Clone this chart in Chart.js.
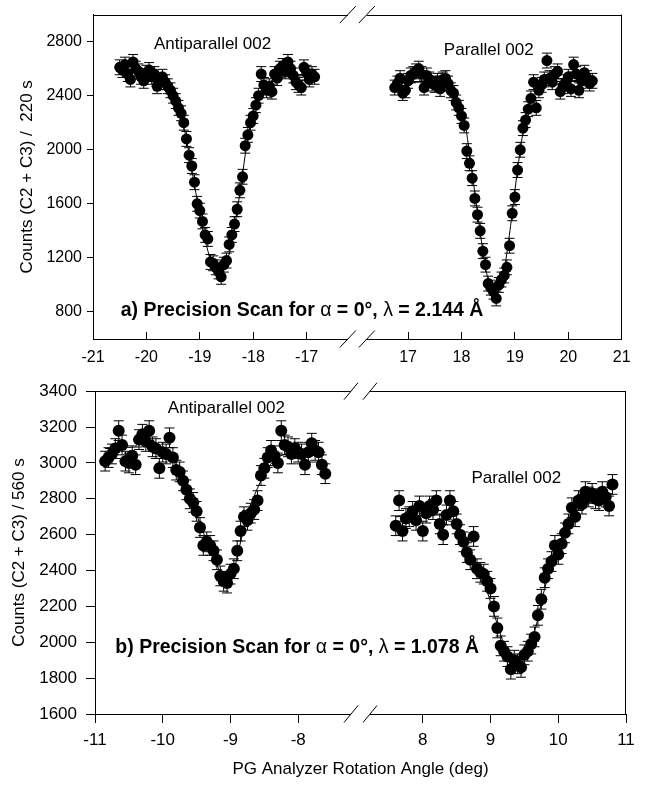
<!DOCTYPE html>
<html><head><meta charset="utf-8">
<script src="https://cdn.jsdelivr.net/npm/chart.js@4.4.0/dist/chart.umd.min.js"></script>
<style>
html,body{margin:0;padding:0;background:#fff;}
#wrap{position:relative;width:647px;height:785px;background:#fff;}
canvas{position:absolute;left:0;}
</style></head><body>
<div id="wrap">
<canvas id="ca" width="647" height="372" style="top:0;width:647px;height:372px"></canvas>
<canvas id="cb" width="647" height="413" style="top:372px;width:647px;height:413px"></canvas>
</div>
<script>
// ---------- Panel a) lambda = 2.144 A ----------
const aAntiX = [-20.50,-20.45,-20.40,-20.35,-20.30,-20.25,-20.20,-20.15,-20.10,-20.05,
  -20.00,-19.95,-19.90,-19.85,-19.80,-19.75,-19.70,-19.65,-19.60,-19.55,
  -19.50,-19.45,-19.40,-19.35,-19.30,-19.25,-19.20,-19.15,-19.10,-19.05,
  -19.00,-18.95,-18.90,-18.85,-18.80,-18.75,-18.70,-18.65,-18.60,-18.55,
  -18.50,-18.45,-18.40,-18.35,-18.30,-18.25,-18.20,-18.15,-18.10,-18.05,
  -18.00,-17.95,-17.90,-17.85,-17.80,-17.75,-17.70,-17.65,-17.60,-17.55,
  -17.50,-17.45,-17.40,-17.35,-17.30,-17.25,-17.20,-17.15,-17.10,-17.05,
  -17.00,-16.95,-16.90,-16.85];
const aAntiY = [2610,2590,2630,2560,2520,2650,2600,2580,2540,2510,
  2570,2590,2540,2560,2470,2500,2540,2500,2470,2440,
  2400,2360,2310,2270,2200,2080,1960,1880,1760,1600,
  1550,1470,1370,1340,1170,1160,1130,1100,1060,1150,
  1180,1300,1370,1450,1560,1700,1800,2030,2110,2200,
  2250,2330,2400,2560,2480,2440,2470,2430,2560,2530,
  2600,2620,2580,2650,2600,2550,2500,2480,2460,2610,
  2570,2520,2560,2540];
const aParX = [16.75,16.80,16.85,16.90,16.95,17.00,17.05,17.10,17.15,17.20,
  17.25,17.30,17.35,17.40,17.45,17.50,17.55,17.60,17.65,17.70,
  17.75,17.80,17.85,17.90,17.95,18.00,18.05,18.10,18.15,18.20,
  18.25,18.30,18.35,18.40,18.45,18.50,18.55,18.60,18.65,18.70,
  18.75,18.80,18.85,18.90,18.95,19.00,19.05,19.10,19.15,19.20,
  19.25,19.30,19.35,19.40,19.45,19.50,19.55,19.60,19.65,19.70,
  19.75,19.80,19.85,19.90,19.95,20.00,20.05,20.10,20.15,20.20,
  20.25,20.30,20.35,20.40,20.45];
const aParY = [2460,2490,2530,2420,2440,2510,2550,2560,2580,2600,
  2560,2460,2550,2520,2490,2480,2510,2450,2520,2530,
  2490,2440,2420,2350,2310,2250,2180,1990,1900,1790,
  1640,1520,1400,1250,1150,1010,980,950,900,1000,
  1040,1070,1130,1290,1530,1650,1850,2000,2160,2220,
  2300,2380,2500,2310,2440,2480,2520,2660,2530,2500,
  2560,2580,2430,2470,2500,2540,2450,2630,2560,2440,
  2510,2570,2530,2490,2510];
const aAntiFitX = [-20.5,-20.0,-19.7,-19.5,-19.4,-19.3,-19.2,-19.1,-19.0,-18.9,-18.8,-18.7,-18.62,-18.55,-18.45,-18.35,-18.25,-18.15,-18.05,-17.95,-17.8,-17.6,-17.2,-16.85];
const aAntiFitY = [2580,2560,2530,2420,2320,2170,1970,1740,1520,1330,1190,1110,1090,1110,1230,1430,1680,1960,2200,2360,2470,2520,2545,2550];
const aParFitX = [16.75,17.5,17.8,17.95,18.05,18.15,18.25,18.35,18.45,18.55,18.63,18.72,18.82,18.92,19.02,19.12,19.22,19.35,19.55,20.0,20.45];
const aParFitY = [2500,2500,2470,2370,2230,1980,1680,1390,1130,970,940,990,1160,1440,1760,2050,2270,2410,2480,2510,2515];
const aYTicks = [800,1200,1600,2000,2400,2800];
const aXTicksL = [-21,-20,-19,-18,-17];
const aXTicksR = [17,18,19,20,21];
const aErr = 55;

// ---------- Panel b) lambda = 1.078 A ----------
const bAntiX = [-10.85,-10.80,-10.75,-10.70,-10.65,-10.60,-10.55,-10.50,-10.45,-10.40,
  -10.35,-10.30,-10.25,-10.20,-10.15,-10.10,-10.05,-10.00,-9.95,-9.90,
  -9.85,-9.80,-9.75,-9.70,-9.65,-9.60,-9.55,-9.50,-9.45,-9.40,
  -9.35,-9.30,-9.25,-9.20,-9.15,-9.10,-9.05,-9.00,-8.95,-8.90,
  -8.85,-8.80,-8.75,-8.70,-8.65,-8.60,-8.55,-8.50,-8.45,-8.40,
  -8.35,-8.30,-8.25,-8.20,-8.15,-8.10,-8.05,-8.00,-7.95,-7.90,
  -7.85,-7.80,-7.75,-7.70,-7.65,-7.60];
const bAntiY = [3010,3030,3050,3080,3180,3100,3010,3000,3040,2990,
  3130,3160,3120,3180,3090,3080,2970,3060,3050,3140,
  3030,2960,2950,2900,2850,2800,2780,2730,2640,2540,
  2560,2540,2510,2460,2370,2340,2330,2380,2410,2510,
  2620,2700,2680,2720,2740,2790,2930,2970,3030,3070,
  3040,3000,3180,3100,3090,3050,3080,3060,3050,2990,
  3060,3110,3070,3060,2990,2940];
const bParX = [7.60,7.65,7.70,7.75,7.80,7.85,7.90,7.95,8.00,8.05,
  8.10,8.15,8.20,8.25,8.30,8.35,8.40,8.45,8.50,8.55,
  8.60,8.65,8.70,8.75,8.80,8.85,8.90,8.95,9.00,9.05,
  9.10,9.15,9.20,9.25,9.30,9.35,9.40,9.45,9.50,9.55,
  9.60,9.65,9.70,9.75,9.80,9.85,9.90,9.95,10.00,10.05,
  10.10,10.15,10.20,10.25,10.30,10.35,10.40,10.45,10.50,10.55,
  10.60,10.65,10.70,10.75,10.80];
const bParY = [2650,2790,2620,2690,2700,2730,2680,2760,2620,2720,
  2760,2740,2790,2660,2600,2710,2790,2730,2660,2600,
  2560,2500,2460,2590,2410,2390,2380,2340,2300,2200,
  2080,1980,1950,1920,1850,1900,1880,1860,1930,1950,
  1990,2030,2150,2240,2360,2410,2450,2540,2490,2550,
  2610,2660,2750,2700,2790,2770,2840,2810,2830,2800,
  2790,2840,2810,2760,2880];
const bAntiFitX = [-10.85,-10.2,-9.9,-9.75,-9.6,-9.45,-9.3,-9.2,-9.1,-9.03,-8.95,-8.85,-8.75,-8.6,-8.45,-8.3,-8.0,-7.6];
const bAntiFitY = [3080,3090,3040,2950,2820,2660,2520,2430,2360,2340,2400,2560,2710,2860,2970,3030,3060,3060];
const bParFitX = [7.6,8.3,8.5,8.7,8.9,9.1,9.25,9.38,9.5,9.65,9.8,9.95,10.1,10.3,10.5,10.8];
const bParFitY = [2700,2710,2650,2510,2340,2100,1940,1880,1920,2060,2300,2480,2620,2740,2800,2830];
const bYTicks = [1600,1800,2000,2200,2400,2600,2800,3000,3200,3400];
const bXTicksL = [-11,-10,-9,-8];
const bXTicksR = [8,9,10,11];
const bErr = 55;

const FONT = "'Liberation Sans', Arial, Helvetica, sans-serif";
Chart.defaults.font.family = FONT;
Chart.defaults.color = '#000';

function pts(xs, ys) { return xs.map((x, i) => ({x: x, y: ys[i]})); }

const decoPlugin = {
  id: 'deco',
  beforeDatasetsDraw(chart, args, o) {
    const ctx = chart.ctx, ys = chart.scales.y;
    ctx.save();
    ctx.strokeStyle = '#000';
    ctx.lineWidth = 1;
    chart.data.datasets.forEach((ds, i) => {
      if (!ds.errBar) return;
      const meta = chart.getDatasetMeta(i);
      meta.data.forEach((el, j) => {
        const v = ds.data[j].y;
        const yt = ys.getPixelForValue(v + ds.errBar);
        const yb = ys.getPixelForValue(v - ds.errBar);
        const x = el.x, c = o.cap;
        ctx.beginPath();
        ctx.moveTo(x, yt); ctx.lineTo(x, yb);
        ctx.moveTo(x - c, yt); ctx.lineTo(x + c, yt);
        ctx.moveTo(x - c, yb); ctx.lineTo(x + c, yb);
        ctx.stroke();
      });
    });
    ctx.restore();
  },
  afterDraw(chart, args, o) {
    const ctx = chart.ctx, ca = chart.chartArea;
    ctx.save();
    ctx.strokeStyle = '#000';
    ctx.lineWidth = 1;
    ctx.beginPath();
    ctx.moveTo(ca.left, Math.round(ca.top) + 0.5);
    ctx.lineTo(ca.right, Math.round(ca.top) + 0.5);
    ctx.moveTo(Math.round(ca.right) - 0.5, ca.top);
    ctx.lineTo(Math.round(ca.right) - 0.5, ca.bottom);
    ctx.stroke();
    const bx = chart.scales.xL.right;
    [ca.top, ca.bottom].forEach(yy => {
      ctx.fillStyle = '#fff';
      ctx.fillRect(bx - o.gap / 2, yy - 2, o.gap, 4);
      ctx.beginPath();
      [-o.gap / 2, o.gap / 2].forEach(d => {
        const cx = bx + d;
        ctx.moveTo(cx - o.bw / 2, yy + o.bh / 2);
        ctx.lineTo(cx + o.bw / 2, yy - o.bh / 2);
      });
      ctx.stroke();
    });
    ctx.fillStyle = '#000';
    ctx.textBaseline = 'middle';
    (o.labels || []).forEach(L => {
      const px = chart.scales[L.axis].getPixelForValue(L.x);
      const py = chart.scales.y.getPixelForValue(L.y);
      if (L.runs) {
        ctx.textAlign = 'left';
        let x = px;
        L.runs.forEach(r => {
          ctx.font = r[1];
          ctx.fillText(r[0], x, py);
          x += ctx.measureText(r[0]).width;
        });
      } else {
        ctx.font = L.font;
        ctx.textAlign = 'center';
        ctx.fillText(L.text, px, py);
      }
    });
    ctx.restore();
  }
};

function plain(v) { return String(v); }

function xAxis(min, max, tickVals, P) {
  return {
    type: 'linear', axis: 'x', position: 'bottom', stack: 'xs', stackWeight: 1,
    min: min, max: max,
    afterBuildTicks: s => { s.ticks = tickVals.map(v => ({value: v})); },
    ticks: {color: '#000', font: {size: P.tickFont}, padding: P.xPad, maxRotation: 0, autoSkip: false, callback: plain},
    grid: {drawOnChartArea: false, tickLength: P.xTick, color: '#000', tickWidth: 1},
    border: {color: '#000', width: 1},
    afterFit: s => { s.height = P.xHeight; }
  };
}

function makePanel(id, P) {
  const ptStyle = {backgroundColor: '#000', borderColor: '#000', borderWidth: 0, pointRadius: P.r, pointHoverRadius: P.r, order: 0, errBar: P.err};
  const fitStyle = {type: 'line', borderColor: '#000', borderWidth: 1, pointRadius: 0, fill: false, cubicInterpolationMode: 'monotone', order: 1};
  return new Chart(document.getElementById(id), {
    type: 'scatter',
    data: {datasets: [
      Object.assign({label: 'Antiparallel 002', data: pts(P.lx, P.ly), xAxisID: 'xL', yAxisID: 'y'}, ptStyle),
      Object.assign({label: 'Parallel 002', data: pts(P.rx, P.ry), xAxisID: 'xR', yAxisID: 'y'}, ptStyle),
      Object.assign({label: 'fit L', data: pts(P.lfx, P.lfy), xAxisID: 'xL', yAxisID: 'y'}, fitStyle),
      Object.assign({label: 'fit R', data: pts(P.rfx, P.rfy), xAxisID: 'xR', yAxisID: 'y'}, fitStyle)
    ]},
    options: {
      responsive: false, animation: false, devicePixelRatio: 1,
      layout: {padding: {top: P.padTop, right: P.padRight, left: 0, bottom: 0}},
      scales: {
        xL: xAxis(P.xlMin, P.xlMax, P.xtL, P),
        xR: xAxis(P.xrMin, P.xrMax, P.xtR, P),
        y: {
          type: 'linear', position: 'left', min: P.yMin, max: P.yMax,
          afterBuildTicks: s => { s.ticks = P.yt.map(v => ({value: v})); },
          ticks: {color: '#000', font: {size: P.tickFont}, padding: P.yPad, callback: plain},
          grid: {drawOnChartArea: false, tickLength: P.yTick, color: '#000'},
          border: {color: '#000', width: 1},
          title: {display: true, text: P.yTitle, color: '#000', font: {size: 17}, padding: {top: P.yTitlePad, bottom: 0}},
          afterFit: s => { s.width = P.yWidth; }
        }
      },
      plugins: {
        legend: {display: false},
        tooltip: {enabled: false},
        title: P.xTitle ? {display: true, position: 'bottom', fullSize: false, text: P.xTitle, color: '#000',
          font: {size: 17, weight: 'normal'}, padding: {top: 5.6, bottom: 5}} : {display: false},
        deco: {cap: P.cap, gap: P.gap, bw: P.bw, bh: P.bh, labels: P.labels}
      }
    },
    plugins: [decoPlugin]
  });
}

const B = "bold 19.5px " + FONT, N = "19.5px " + FONT, T = "17px " + FONT;

makePanel('ca', {
  lx: aAntiX, ly: aAntiY, rx: aParX, ry: aParY,
  lfx: aAntiFitX, lfy: aAntiFitY, rfx: aParFitX, rfy: aParFitY,
  err: aErr, r: 5.5, cap: 5,
  xlMin: -21, xlMax: -16.05, xrMin: 16.05, xrMax: 21, xtL: aXTicksL, xtR: aXTicksR,
  yMin: 600, yMax: 3000, yt: aYTicks,
  tickFont: 16, xPad: 16.4, xTick: -7, xHeight: 33,
  yPad: 5, yTick: 6, yWidth: 93, yTitlePad: 16.8,
  yTitle: 'Counts (C2 + C3) /  220 s',
  padTop: 10, padRight: 22,
  gap: 19, bw: 16, bh: 17,
  labels: [
    {axis: 'xL', x: -18.76, y: 2782, text: 'Antiparallel 002', font: T},
    {axis: 'xR', x: 18.51, y: 2739, text: 'Parallel 002', font: T},
    {axis: 'xL', x: -20.48, y: 812, runs: [['a) Precision Scan for ', B], ['\u03b1', N], [' = 0\u00b0, ', B], ['\u03bb', N], [' = 2.144 \u00c5', B]]}
  ]
});

makePanel('cb', {
  lx: bAntiX, ly: bAntiY, rx: bParX, ry: bParY,
  lfx: bAntiFitX, lfy: bAntiFitY, rfx: bParFitX, rfy: bParFitY,
  err: bErr, r: 6, cap: 5,
  xlMin: -11, xlMax: -7.08, xrMin: 7.08, xrMax: 11, xtL: bXTicksL, xtR: bXTicksR,
  yMin: 1600, yMax: 3400, yt: bYTicks,
  tickFont: 17, xPad: 6.8, xTick: 9, xHeight: 40,
  yPad: 9, yTick: 9, yWidth: 95, yTitlePad: 8.8,
  yTitle: 'Counts (C2 + C3) / 560 s',
  xTitle: 'PG Analyzer Rotation Angle (deg)',
  padTop: 10, padRight: 21,
  gap: 19, bw: 14, bh: 17,
  labels: [
    {axis: 'xL', x: -9.06, y: 3307, text: 'Antiparallel 002', font: T},
    {axis: 'xR', x: 9.38, y: 2912, text: 'Parallel 002', font: T},
    {axis: 'xL', x: -10.70, y: 1969, runs: [['b) Precision Scan for ', B], ['\u03b1', N], [' = 0\u00b0, ', B], ['\u03bb', N], [' = 1.078 \u00c5', B]]}
  ]
});
</script>
</body></html>
